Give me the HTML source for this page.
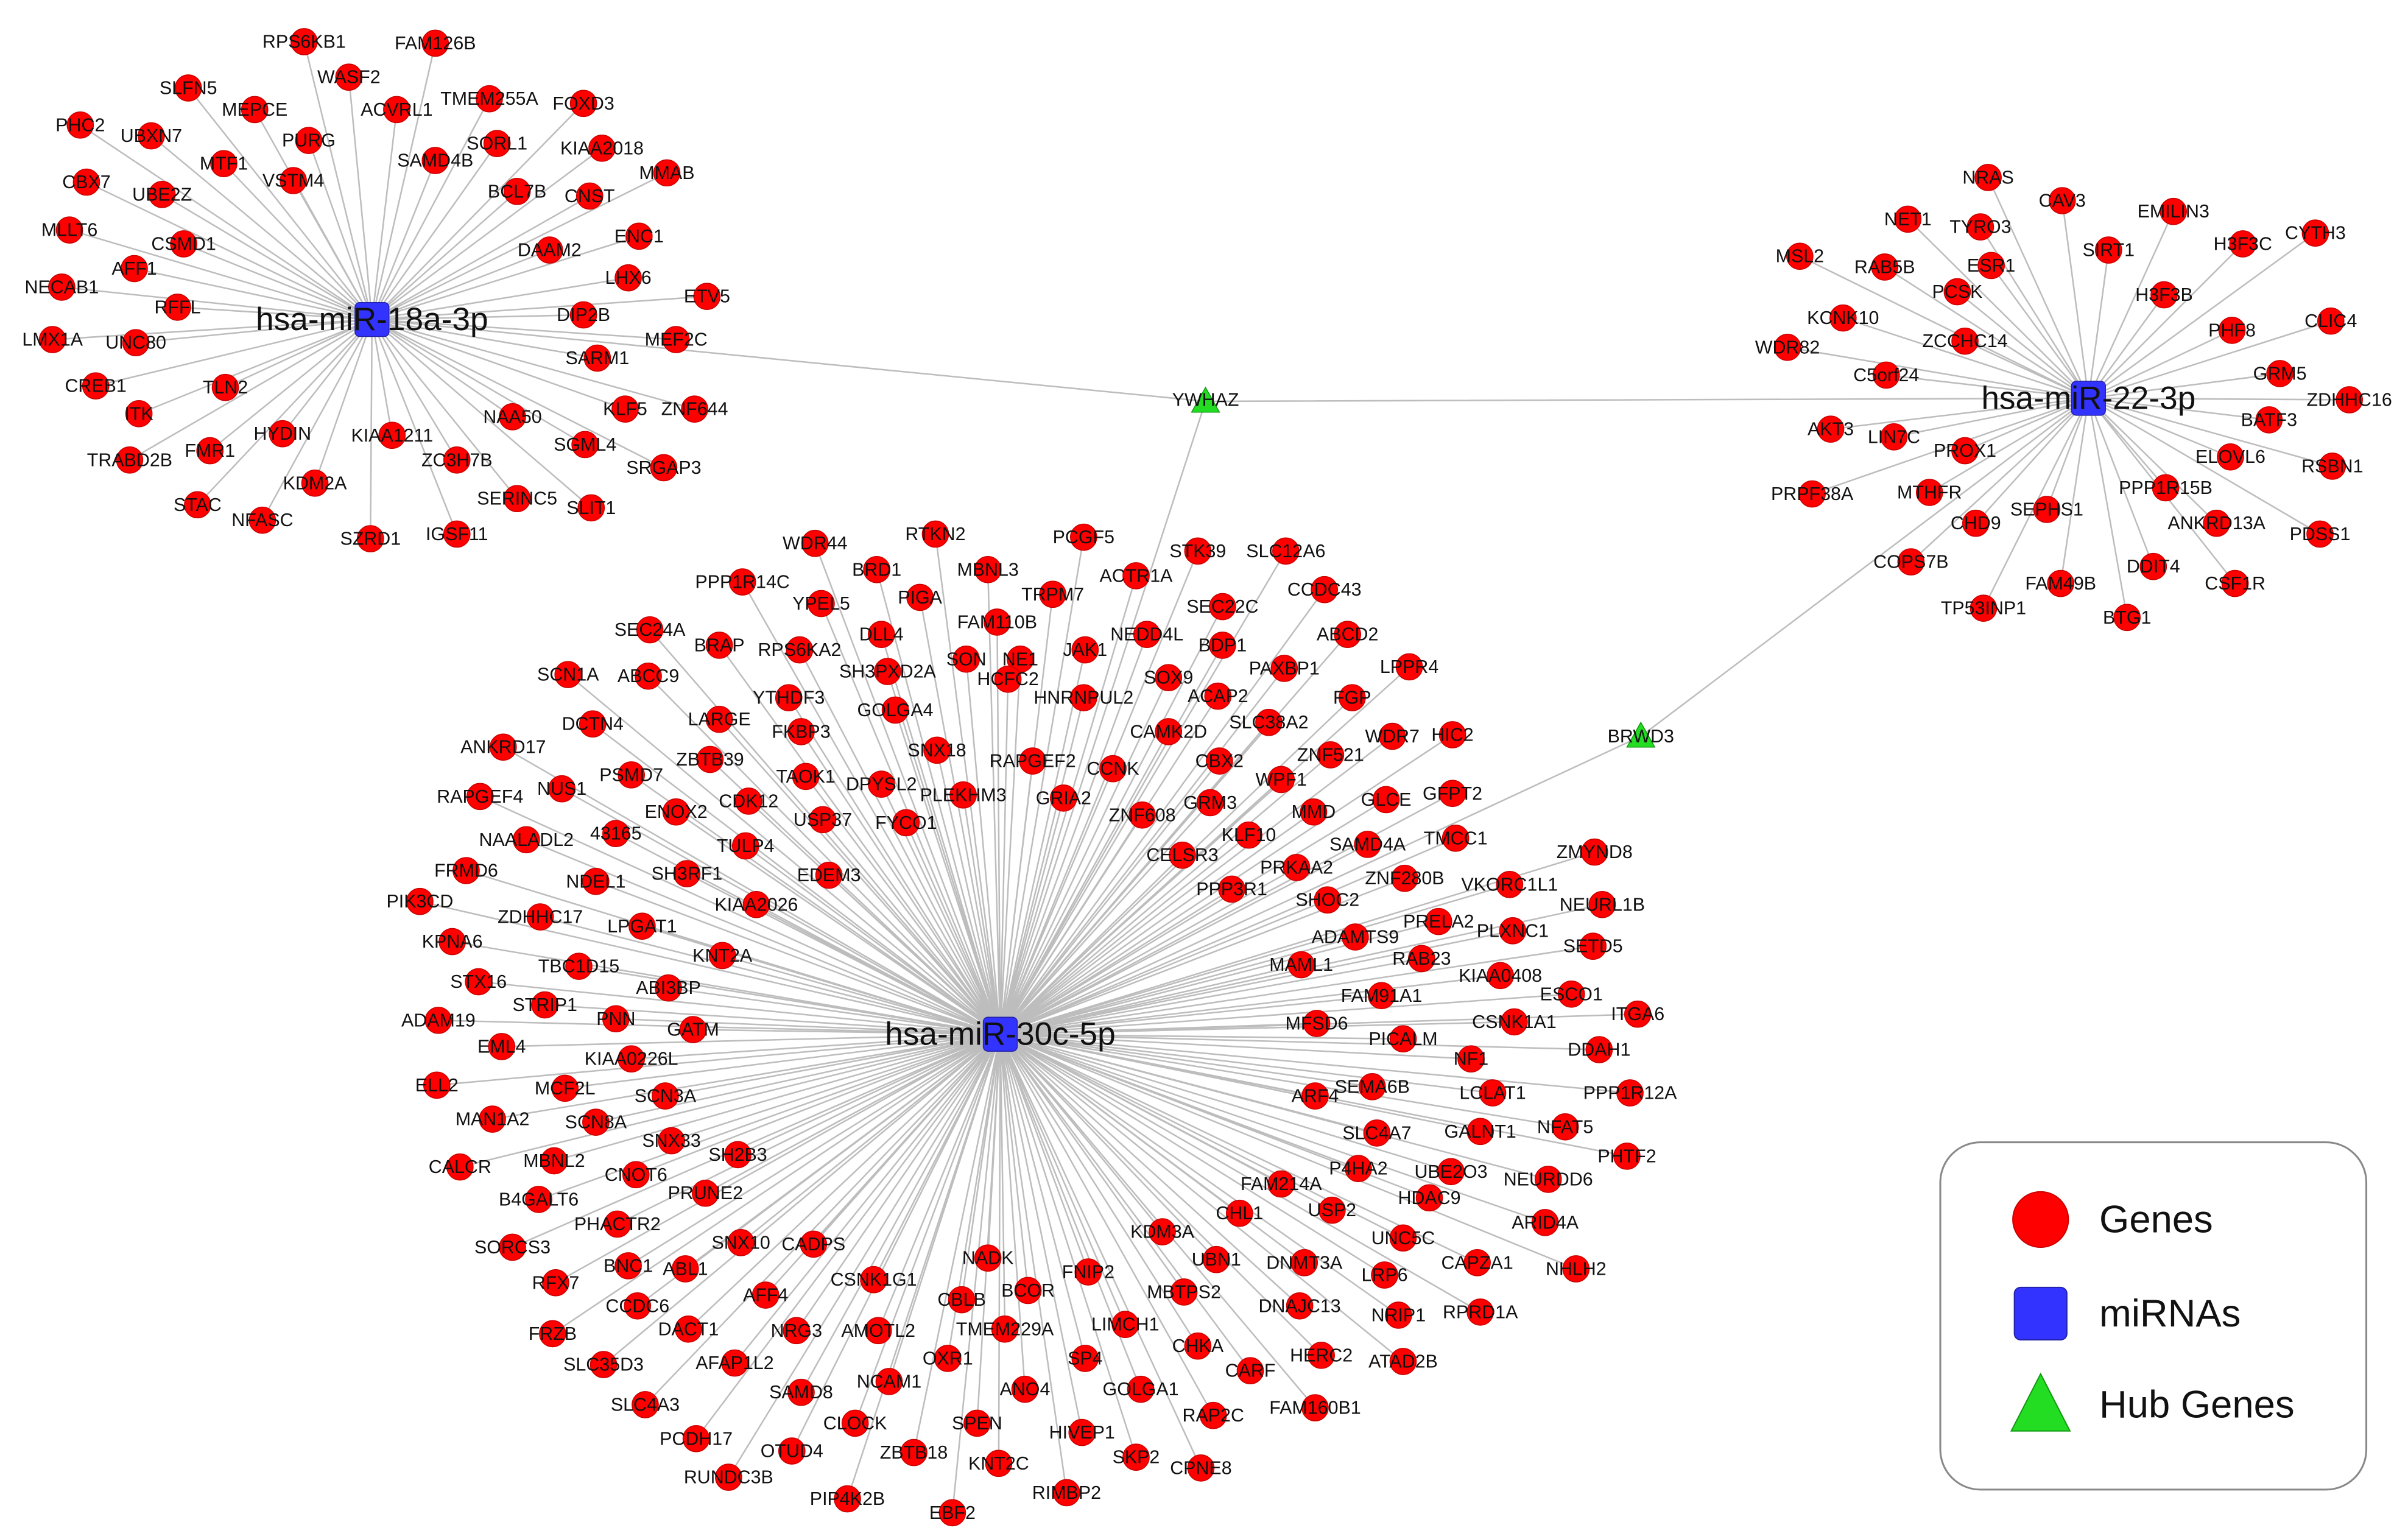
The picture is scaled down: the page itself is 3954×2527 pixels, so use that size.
<!DOCTYPE html>
<html><head><meta charset="utf-8"><style>
html,body{margin:0;padding:0;background:#fff;}
svg{display:block}
text{font-family:"Liberation Sans",Arial,sans-serif}
.g text{font-size:12px;text-anchor:middle;dominant-baseline:central;fill:#111}
.h{font-size:21px;text-anchor:middle;dominant-baseline:central;fill:#111}
.l{font-size:25px;fill:#111;dominant-baseline:central}
.g circle{fill:#f00;stroke:#c00;stroke-width:.6}
</style></head><body>
<svg width="3954" height="2527" viewBox="0 0 1560 997" xmlns="http://www.w3.org/2000/svg">
<rect width="1560" height="997" fill="#fff"/>
<g stroke="#bdbdbd" stroke-width="1" fill="none">
<path d="M241 207L781 260L1353 258M648 670L781 260M648 670L1063 477L1353 258"/>
<path d="M241 207L197 27M241 207L282 28M241 207L226 50M241 207L122 57M241 207L165 71M241 207L257 71M241 207L317 64M241 207L378 67M241 207L52 81M241 207L98 88M241 207L200 91M241 207L282 104M241 207L322 93M241 207L390 96M241 207L145 106M241 207L190 117M241 207L432 112M241 207L56 118M241 207L105 126M241 207L335 124M241 207L382 127M241 207L45 149M241 207L119 158M241 207L414 153M241 207L356 162M241 207L87 174M241 207L407 180M241 207L40 186M241 207L458 192M241 207L115 199M241 207L378 204M241 207L34 220M241 207L88 222M241 207L438 220M241 207L62 250M241 207L146 251M241 207L387 232M241 207L90 268M241 207L450 265M241 207L405 265M241 207L332 270M241 207L136 292M241 207L183 281M241 207L254 282M241 207L296 298M241 207L84 298M241 207L379 288M241 207L430 303M241 207L204 313M241 207L335 323M241 207L383 329M241 207L128 327M241 207L170 337M241 207L240 349M241 207L296 346"/>
<path d="M1353 258L1288 115M1353 258L1336 130M1353 258L1283 147M1353 258L1236 142M1353 258L1408 137M1353 258L1453 158M1353 258L1500 151M1353 258L1166 166M1353 258L1221 173M1353 258L1290 172M1353 258L1366 162M1353 258L1402 191M1353 258L1268 189M1353 258L1194 206M1353 258L1273 221M1353 258L1446 214M1353 258L1510 208M1353 258L1158 225M1353 258L1222 243M1353 258L1477 242M1353 258L1522 259M1353 258L1186 278M1353 258L1227 283M1353 258L1470 272M1353 258L1273 292M1353 258L1445 296M1353 258L1511 302M1353 258L1174 320M1353 258L1250 319M1353 258L1403 316M1353 258L1326 330M1353 258L1280 339M1353 258L1436 339M1353 258L1503 346M1353 258L1238 364M1353 258L1395 367M1353 258L1335 378M1353 258L1448 378M1353 258L1285 394M1353 258L1378 400"/>
<path d="M648 670L528 352M648 670L606 346M648 670L702 348M648 670L568 369M648 670L640 369M648 670L776 357M648 670L833 357M648 670L481 377M648 670L532 391M648 670L596 387M648 670L682 385M648 670L736 373M648 670L858 382M648 670L646 403M648 670L792 393M648 670L571 411M648 670L743 411M648 670L792 418M648 670L873 411M648 670L421 408M648 670L466 418M648 670L518 421M648 670L575 435M648 670L626 427M648 670L661 427M648 670L703 421M648 670L832 433M648 670L913 432M648 670L368 437M648 670L420 438M648 670L511 452M648 670L580 460M648 670L653 440M648 670L702 452M648 670L757 439M648 670L789 451M648 670L876 452M648 670L384 469M648 670L519 474M648 670L466 466M648 670L757 474M648 670L822 468M648 670L941 476M648 670L326 484M648 670L460 492M648 670L607 486M648 670L669 493M648 670L721 498M648 670L790 493M648 670L862 489M648 670L902 477M648 670L409 502M648 670L522 503M648 670L571 508M648 670L830 505M648 670L898 518M648 670L941 514M648 670L311 516M648 670L364 511M648 670L485 519M648 670L533 531M648 670L624 515M648 670L689 517M648 670L784 520M648 670L740 528M648 670L851 526M648 670L438 526M648 670L587 533M648 670L399 540M648 670L766 554M648 670L809 541M648 670L943 543M648 670L341 544M648 670L483 548M648 670L1033 552M648 670L886 547M648 670L840 562M648 670L537 567M648 670L445 566M648 670L302 564M648 670L386 571M648 670L910 569M648 670L978 573M648 670L798 576M648 670L860 583M648 670L490 586M648 670L1038 586M648 670L272 584M648 670L350 594M648 670L416 600M648 670L932 597M648 670L980 603M648 670L878 607M648 670L293 610M648 670L468 619M648 670L843 625M648 670L921 621M648 670L1032 613M648 670L375 626M648 670L895 645M648 670L972 632M648 670L310 636M648 670L433 640M648 670L1018 644M648 670L353 651M648 670L399 660M648 670L449 667M648 670L981 662M648 670L1061 657M648 670L853 663M648 670L284 661M648 670L909 673M648 670L1036 680M648 670L325 678M648 670L953 686M648 670L409 686M648 670L1056 708M648 670L283 703M648 670L366 705M648 670L431 710M648 670L967 708M648 670L889 704M648 670L852 710M648 670L319 725M648 670L386 727M648 670L959 733M648 670L1014 730M648 670L435 739M648 670L892 734M648 670L298 756M648 670L359 752M648 670L478 748M648 670L1054 749M648 670L880 757M648 670L940 759M648 670L1003 764M648 670L412 761M648 670L830 767M648 670L926 776M648 670L349 777M648 670L457 773M648 670L803 786M648 670L863 784M648 670L1001 792M648 670L400 793M648 670L753 798M648 670L480 805M648 670L527 806M648 670L909 802M648 670L332 808M648 670L407 820M648 670L444 822M648 670L788 816M648 670L845 818M648 670L957 818M648 670L1021 822M648 670L640 815M648 670L360 831M648 670L566 829M648 670L705 824M648 670L767 837M648 670L897 826M648 670L413 846M648 670L496 839M648 670L623 842M648 670L666 836M648 670L842 846M648 670L959 850M648 670L906 852M648 670L446 861M648 670L358 864M648 670L516 862M648 670L569 862M648 670L651 861M648 670L729 858M648 670L776 872M648 670L391 884M648 670L476 883M648 670L614 880M648 670L703 880M648 670L856 878M648 670L909 882M648 670L810 888M648 670L519 902M648 670L576 895M648 670L664 900M648 670L739 900M648 670L852 912M648 670L418 910M648 670L554 922M648 670L633 922M648 670L701 928M648 670L786 917M648 670L451 932M648 670L513 940M648 670L592 941M648 670L647 948M648 670L736 944M648 670L778 951M648 670L472 957M648 670L549 971M648 670L691 967M648 670L617 980"/>
</g>
<g class="g">
<circle cx="197" cy="27" r="8.5"/><text x="197" y="27">RPS6KB1</text>
<circle cx="282" cy="28" r="8.5"/><text x="282" y="28">FAM126B</text>
<circle cx="226" cy="50" r="8.5"/><text x="226" y="50">WASF2</text>
<circle cx="122" cy="57" r="8.5"/><text x="122" y="57">SLFN5</text>
<circle cx="165" cy="71" r="8.5"/><text x="165" y="71">MEPCE</text>
<circle cx="257" cy="71" r="8.5"/><text x="257" y="71">ACVRL1</text>
<circle cx="317" cy="64" r="8.5"/><text x="317" y="64">TMEM255A</text>
<circle cx="378" cy="67" r="8.5"/><text x="378" y="67">FOXD3</text>
<circle cx="52" cy="81" r="8.5"/><text x="52" y="81">PHC2</text>
<circle cx="98" cy="88" r="8.5"/><text x="98" y="88">UBXN7</text>
<circle cx="200" cy="91" r="8.5"/><text x="200" y="91">PURG</text>
<circle cx="282" cy="104" r="8.5"/><text x="282" y="104">SAMD4B</text>
<circle cx="322" cy="93" r="8.5"/><text x="322" y="93">SORL1</text>
<circle cx="390" cy="96" r="8.5"/><text x="390" y="96">KIAA2018</text>
<circle cx="145" cy="106" r="8.5"/><text x="145" y="106">MTF1</text>
<circle cx="190" cy="117" r="8.5"/><text x="190" y="117">VSTM4</text>
<circle cx="432" cy="112" r="8.5"/><text x="432" y="112">MMAB</text>
<circle cx="56" cy="118" r="8.5"/><text x="56" y="118">CBX7</text>
<circle cx="105" cy="126" r="8.5"/><text x="105" y="126">UBE2Z</text>
<circle cx="335" cy="124" r="8.5"/><text x="335" y="124">BCL7B</text>
<circle cx="382" cy="127" r="8.5"/><text x="382" y="127">CNST</text>
<circle cx="45" cy="149" r="8.5"/><text x="45" y="149">MLLT6</text>
<circle cx="119" cy="158" r="8.5"/><text x="119" y="158">CSMD1</text>
<circle cx="414" cy="153" r="8.5"/><text x="414" y="153">ENC1</text>
<circle cx="356" cy="162" r="8.5"/><text x="356" y="162">DAAM2</text>
<circle cx="87" cy="174" r="8.5"/><text x="87" y="174">AFF1</text>
<circle cx="407" cy="180" r="8.5"/><text x="407" y="180">LHX6</text>
<circle cx="40" cy="186" r="8.5"/><text x="40" y="186">NECAB1</text>
<circle cx="458" cy="192" r="8.5"/><text x="458" y="192">ETV5</text>
<circle cx="115" cy="199" r="8.5"/><text x="115" y="199">RFFL</text>
<circle cx="378" cy="204" r="8.5"/><text x="378" y="204">DIP2B</text>
<circle cx="34" cy="220" r="8.5"/><text x="34" y="220">LMX1A</text>
<circle cx="88" cy="222" r="8.5"/><text x="88" y="222">UNC80</text>
<circle cx="438" cy="220" r="8.5"/><text x="438" y="220">MEF2C</text>
<circle cx="62" cy="250" r="8.5"/><text x="62" y="250">CREB1</text>
<circle cx="146" cy="251" r="8.5"/><text x="146" y="251">TLN2</text>
<circle cx="387" cy="232" r="8.5"/><text x="387" y="232">SARM1</text>
<circle cx="90" cy="268" r="8.5"/><text x="90" y="268">ITK</text>
<circle cx="450" cy="265" r="8.5"/><text x="450" y="265">ZNF644</text>
<circle cx="405" cy="265" r="8.5"/><text x="405" y="265">KLF5</text>
<circle cx="332" cy="270" r="8.5"/><text x="332" y="270">NAA50</text>
<circle cx="136" cy="292" r="8.5"/><text x="136" y="292">FMR1</text>
<circle cx="183" cy="281" r="8.5"/><text x="183" y="281">HYDIN</text>
<circle cx="254" cy="282" r="8.5"/><text x="254" y="282">KIAA1211</text>
<circle cx="296" cy="298" r="8.5"/><text x="296" y="298">ZC3H7B</text>
<circle cx="84" cy="298" r="8.5"/><text x="84" y="298">TRABD2B</text>
<circle cx="379" cy="288" r="8.5"/><text x="379" y="288">SGML4</text>
<circle cx="430" cy="303" r="8.5"/><text x="430" y="303">SRGAP3</text>
<circle cx="204" cy="313" r="8.5"/><text x="204" y="313">KDM2A</text>
<circle cx="335" cy="323" r="8.5"/><text x="335" y="323">SERINC5</text>
<circle cx="383" cy="329" r="8.5"/><text x="383" y="329">SLIT1</text>
<circle cx="128" cy="327" r="8.5"/><text x="128" y="327">STAC</text>
<circle cx="170" cy="337" r="8.5"/><text x="170" y="337">NFASC</text>
<circle cx="240" cy="349" r="8.5"/><text x="240" y="349">SZRD1</text>
<circle cx="296" cy="346" r="8.5"/><text x="296" y="346">IGSF11</text>

<circle cx="1288" cy="115" r="8.5"/><text x="1288" y="115">NRAS</text>
<circle cx="1336" cy="130" r="8.5"/><text x="1336" y="130">CAV3</text>
<circle cx="1283" cy="147" r="8.5"/><text x="1283" y="147">TYRO3</text>
<circle cx="1236" cy="142" r="8.5"/><text x="1236" y="142">NET1</text>
<circle cx="1408" cy="137" r="8.5"/><text x="1408" y="137">EMILIN3</text>
<circle cx="1453" cy="158" r="8.5"/><text x="1453" y="158">H3F3C</text>
<circle cx="1500" cy="151" r="8.5"/><text x="1500" y="151">CYTH3</text>
<circle cx="1166" cy="166" r="8.5"/><text x="1166" y="166">MSL2</text>
<circle cx="1221" cy="173" r="8.5"/><text x="1221" y="173">RAB5B</text>
<circle cx="1290" cy="172" r="8.5"/><text x="1290" y="172">ESR1</text>
<circle cx="1366" cy="162" r="8.5"/><text x="1366" y="162">SIRT1</text>
<circle cx="1402" cy="191" r="8.5"/><text x="1402" y="191">H3F3B</text>
<circle cx="1268" cy="189" r="8.5"/><text x="1268" y="189">PCSK</text>
<circle cx="1194" cy="206" r="8.5"/><text x="1194" y="206">KCNK10</text>
<circle cx="1273" cy="221" r="8.5"/><text x="1273" y="221">ZCCHC14</text>
<circle cx="1446" cy="214" r="8.5"/><text x="1446" y="214">PHF8</text>
<circle cx="1510" cy="208" r="8.5"/><text x="1510" y="208">CLIC4</text>
<circle cx="1158" cy="225" r="8.5"/><text x="1158" y="225">WDR82</text>
<circle cx="1222" cy="243" r="8.5"/><text x="1222" y="243">C5orf24</text>
<circle cx="1477" cy="242" r="8.5"/><text x="1477" y="242">GRM5</text>
<circle cx="1522" cy="259" r="8.5"/><text x="1522" y="259">ZDHHC16</text>
<circle cx="1186" cy="278" r="8.5"/><text x="1186" y="278">AKT3</text>
<circle cx="1227" cy="283" r="8.5"/><text x="1227" y="283">LIN7C</text>
<circle cx="1470" cy="272" r="8.5"/><text x="1470" y="272">BATF3</text>
<circle cx="1273" cy="292" r="8.5"/><text x="1273" y="292">PROX1</text>
<circle cx="1445" cy="296" r="8.5"/><text x="1445" y="296">ELOVL6</text>
<circle cx="1511" cy="302" r="8.5"/><text x="1511" y="302">RSBN1</text>
<circle cx="1174" cy="320" r="8.5"/><text x="1174" y="320">PRPF38A</text>
<circle cx="1250" cy="319" r="8.5"/><text x="1250" y="319">MTHFR</text>
<circle cx="1403" cy="316" r="8.5"/><text x="1403" y="316">PPP1R15B</text>
<circle cx="1326" cy="330" r="8.5"/><text x="1326" y="330">SEPHS1</text>
<circle cx="1280" cy="339" r="8.5"/><text x="1280" y="339">CHD9</text>
<circle cx="1436" cy="339" r="8.5"/><text x="1436" y="339">ANKRD13A</text>
<circle cx="1503" cy="346" r="8.5"/><text x="1503" y="346">PDSS1</text>
<circle cx="1238" cy="364" r="8.5"/><text x="1238" y="364">COPS7B</text>
<circle cx="1395" cy="367" r="8.5"/><text x="1395" y="367">DDIT4</text>
<circle cx="1335" cy="378" r="8.5"/><text x="1335" y="378">FAM49B</text>
<circle cx="1448" cy="378" r="8.5"/><text x="1448" y="378">CSF1R</text>
<circle cx="1285" cy="394" r="8.5"/><text x="1285" y="394">TP53INP1</text>
<circle cx="1378" cy="400" r="8.5"/><text x="1378" y="400">BTG1</text>

<circle cx="528" cy="352" r="8.5"/><text x="528" y="352">WDR44</text>
<circle cx="606" cy="346" r="8.5"/><text x="606" y="346">RTKN2</text>
<circle cx="702" cy="348" r="8.5"/><text x="702" y="348">PCGF5</text>
<circle cx="568" cy="369" r="8.5"/><text x="568" y="369">BRD1</text>
<circle cx="640" cy="369" r="8.5"/><text x="640" y="369">MBNL3</text>
<circle cx="776" cy="357" r="8.5"/><text x="776" y="357">STK39</text>
<circle cx="833" cy="357" r="8.5"/><text x="833" y="357">SLC12A6</text>
<circle cx="481" cy="377" r="8.5"/><text x="481" y="377">PPP1R14C</text>
<circle cx="532" cy="391" r="8.5"/><text x="532" y="391">YPEL5</text>
<circle cx="596" cy="387" r="8.5"/><text x="596" y="387">PIGA</text>
<circle cx="682" cy="385" r="8.5"/><text x="682" y="385">TRPM7</text>
<circle cx="736" cy="373" r="8.5"/><text x="736" y="373">ACTR1A</text>
<circle cx="858" cy="382" r="8.5"/><text x="858" y="382">CCDC43</text>
<circle cx="646" cy="403" r="8.5"/><text x="646" y="403">FAM110B</text>
<circle cx="792" cy="393" r="8.5"/><text x="792" y="393">SEC22C</text>
<circle cx="571" cy="411" r="8.5"/><text x="571" y="411">DLL4</text>
<circle cx="743" cy="411" r="8.5"/><text x="743" y="411">NEDD4L</text>
<circle cx="792" cy="418" r="8.5"/><text x="792" y="418">BDP1</text>
<circle cx="873" cy="411" r="8.5"/><text x="873" y="411">ABCD2</text>
<circle cx="421" cy="408" r="8.5"/><text x="421" y="408">SEC24A</text>
<circle cx="466" cy="418" r="8.5"/><text x="466" y="418">BRAP</text>
<circle cx="518" cy="421" r="8.5"/><text x="518" y="421">RPS6KA2</text>
<circle cx="575" cy="435" r="8.5"/><text x="575" y="435">SH3PXD2A</text>
<circle cx="626" cy="427" r="8.5"/><text x="626" y="427">SON</text>
<circle cx="661" cy="427" r="8.5"/><text x="661" y="427">NE1</text>
<circle cx="703" cy="421" r="8.5"/><text x="703" y="421">JAK1</text>
<circle cx="832" cy="433" r="8.5"/><text x="832" y="433">PAXBP1</text>
<circle cx="913" cy="432" r="8.5"/><text x="913" y="432">LPPR4</text>
<circle cx="368" cy="437" r="8.5"/><text x="368" y="437">SCN1A</text>
<circle cx="420" cy="438" r="8.5"/><text x="420" y="438">ABCC9</text>
<circle cx="511" cy="452" r="8.5"/><text x="511" y="452">YTHDF3</text>
<circle cx="580" cy="460" r="8.5"/><text x="580" y="460">GOLGA4</text>
<circle cx="653" cy="440" r="8.5"/><text x="653" y="440">HCFC2</text>
<circle cx="702" cy="452" r="8.5"/><text x="702" y="452">HNRNPUL2</text>
<circle cx="757" cy="439" r="8.5"/><text x="757" y="439">SOX9</text>
<circle cx="789" cy="451" r="8.5"/><text x="789" y="451">ACAP2</text>
<circle cx="876" cy="452" r="8.5"/><text x="876" y="452">FGP</text>
<circle cx="384" cy="469" r="8.5"/><text x="384" y="469">DCTN4</text>
<circle cx="519" cy="474" r="8.5"/><text x="519" y="474">FKBP3</text>
<circle cx="466" cy="466" r="8.5"/><text x="466" y="466">LARGE</text>
<circle cx="757" cy="474" r="8.5"/><text x="757" y="474">CAMK2D</text>
<circle cx="822" cy="468" r="8.5"/><text x="822" y="468">SLC38A2</text>
<circle cx="941" cy="476" r="8.5"/><text x="941" y="476">HIC2</text>
<circle cx="326" cy="484" r="8.5"/><text x="326" y="484">ANKRD17</text>
<circle cx="460" cy="492" r="8.5"/><text x="460" y="492">ZBTB39</text>
<circle cx="607" cy="486" r="8.5"/><text x="607" y="486">SNX18</text>
<circle cx="669" cy="493" r="8.5"/><text x="669" y="493">RAPGEF2</text>
<circle cx="721" cy="498" r="8.5"/><text x="721" y="498">CCNK</text>
<circle cx="790" cy="493" r="8.5"/><text x="790" y="493">CBX2</text>
<circle cx="862" cy="489" r="8.5"/><text x="862" y="489">ZNF521</text>
<circle cx="902" cy="477" r="8.5"/><text x="902" y="477">WDR7</text>
<circle cx="409" cy="502" r="8.5"/><text x="409" y="502">PSMD7</text>
<circle cx="522" cy="503" r="8.5"/><text x="522" y="503">TAOK1</text>
<circle cx="571" cy="508" r="8.5"/><text x="571" y="508">DPYSL2</text>
<circle cx="830" cy="505" r="8.5"/><text x="830" y="505">WPF1</text>
<circle cx="898" cy="518" r="8.5"/><text x="898" y="518">GLCE</text>
<circle cx="941" cy="514" r="8.5"/><text x="941" y="514">GFPT2</text>
<circle cx="311" cy="516" r="8.5"/><text x="311" y="516">RAPGEF4</text>
<circle cx="364" cy="511" r="8.5"/><text x="364" y="511">NUS1</text>
<circle cx="485" cy="519" r="8.5"/><text x="485" y="519">CDK12</text>
<circle cx="533" cy="531" r="8.5"/><text x="533" y="531">USP37</text>
<circle cx="624" cy="515" r="8.5"/><text x="624" y="515">PLEKHM3</text>
<circle cx="689" cy="517" r="8.5"/><text x="689" y="517">GRIA2</text>
<circle cx="784" cy="520" r="8.5"/><text x="784" y="520">GRM3</text>
<circle cx="740" cy="528" r="8.5"/><text x="740" y="528">ZNF608</text>
<circle cx="851" cy="526" r="8.5"/><text x="851" y="526">MMD</text>
<circle cx="438" cy="526" r="8.5"/><text x="438" y="526">ENOX2</text>
<circle cx="587" cy="533" r="8.5"/><text x="587" y="533">FYCO1</text>
<circle cx="399" cy="540" r="8.5"/><text x="399" y="540">43165</text>
<circle cx="766" cy="554" r="8.5"/><text x="766" y="554">CELSR3</text>
<circle cx="809" cy="541" r="8.5"/><text x="809" y="541">KLF10</text>
<circle cx="943" cy="543" r="8.5"/><text x="943" y="543">TMCC1</text>
<circle cx="341" cy="544" r="8.5"/><text x="341" y="544">NAALADL2</text>
<circle cx="483" cy="548" r="8.5"/><text x="483" y="548">TULP4</text>
<circle cx="1033" cy="552" r="8.5"/><text x="1033" y="552">ZMYND8</text>
<circle cx="886" cy="547" r="8.5"/><text x="886" y="547">SAMD4A</text>
<circle cx="840" cy="562" r="8.5"/><text x="840" y="562">PRKAA2</text>
<circle cx="537" cy="567" r="8.5"/><text x="537" y="567">EDEM3</text>
<circle cx="445" cy="566" r="8.5"/><text x="445" y="566">SH3RF1</text>
<circle cx="302" cy="564" r="8.5"/><text x="302" y="564">FRMD6</text>
<circle cx="386" cy="571" r="8.5"/><text x="386" y="571">NDEL1</text>
<circle cx="910" cy="569" r="8.5"/><text x="910" y="569">ZNF280B</text>
<circle cx="978" cy="573" r="8.5"/><text x="978" y="573">VKORC1L1</text>
<circle cx="798" cy="576" r="8.5"/><text x="798" y="576">PPP3R1</text>
<circle cx="860" cy="583" r="8.5"/><text x="860" y="583">SHOC2</text>
<circle cx="490" cy="586" r="8.5"/><text x="490" y="586">KIAA2026</text>
<circle cx="1038" cy="586" r="8.5"/><text x="1038" y="586">NEURL1B</text>
<circle cx="272" cy="584" r="8.5"/><text x="272" y="584">PIK3CD</text>
<circle cx="350" cy="594" r="8.5"/><text x="350" y="594">ZDHHC17</text>
<circle cx="416" cy="600" r="8.5"/><text x="416" y="600">LPGAT1</text>
<circle cx="932" cy="597" r="8.5"/><text x="932" y="597">PRELA2</text>
<circle cx="980" cy="603" r="8.5"/><text x="980" y="603">PLXNC1</text>
<circle cx="878" cy="607" r="8.5"/><text x="878" y="607">ADAMTS9</text>
<circle cx="293" cy="610" r="8.5"/><text x="293" y="610">KPNA6</text>
<circle cx="468" cy="619" r="8.5"/><text x="468" y="619">KNT2A</text>
<circle cx="843" cy="625" r="8.5"/><text x="843" y="625">MAML1</text>
<circle cx="921" cy="621" r="8.5"/><text x="921" y="621">RAB23</text>
<circle cx="1032" cy="613" r="8.5"/><text x="1032" y="613">SETD5</text>
<circle cx="375" cy="626" r="8.5"/><text x="375" y="626">TBC1D15</text>
<circle cx="895" cy="645" r="8.5"/><text x="895" y="645">FAM91A1</text>
<circle cx="972" cy="632" r="8.5"/><text x="972" y="632">KIAA0408</text>
<circle cx="310" cy="636" r="8.5"/><text x="310" y="636">STX16</text>
<circle cx="433" cy="640" r="8.5"/><text x="433" y="640">ABI3BP</text>
<circle cx="1018" cy="644" r="8.5"/><text x="1018" y="644">ESCO1</text>
<circle cx="353" cy="651" r="8.5"/><text x="353" y="651">STRIP1</text>
<circle cx="399" cy="660" r="8.5"/><text x="399" y="660">PNN</text>
<circle cx="449" cy="667" r="8.5"/><text x="449" y="667">GATM</text>
<circle cx="981" cy="662" r="8.5"/><text x="981" y="662">CSNK1A1</text>
<circle cx="1061" cy="657" r="8.5"/><text x="1061" y="657">ITGA6</text>
<circle cx="853" cy="663" r="8.5"/><text x="853" y="663">MFSD6</text>
<circle cx="284" cy="661" r="8.5"/><text x="284" y="661">ADAM19</text>
<circle cx="909" cy="673" r="8.5"/><text x="909" y="673">PICALM</text>
<circle cx="1036" cy="680" r="8.5"/><text x="1036" y="680">DDAH1</text>
<circle cx="325" cy="678" r="8.5"/><text x="325" y="678">EML4</text>
<circle cx="953" cy="686" r="8.5"/><text x="953" y="686">NF1</text>
<circle cx="409" cy="686" r="8.5"/><text x="409" y="686">KIAA0226L</text>
<circle cx="1056" cy="708" r="8.5"/><text x="1056" y="708">PPP1R12A</text>
<circle cx="283" cy="703" r="8.5"/><text x="283" y="703">ELL2</text>
<circle cx="366" cy="705" r="8.5"/><text x="366" y="705">MCF2L</text>
<circle cx="431" cy="710" r="8.5"/><text x="431" y="710">SCN3A</text>
<circle cx="967" cy="708" r="8.5"/><text x="967" y="708">LCLAT1</text>
<circle cx="889" cy="704" r="8.5"/><text x="889" y="704">SEMA6B</text>
<circle cx="852" cy="710" r="8.5"/><text x="852" y="710">ARF4</text>
<circle cx="319" cy="725" r="8.5"/><text x="319" y="725">MAN1A2</text>
<circle cx="386" cy="727" r="8.5"/><text x="386" y="727">SCN8A</text>
<circle cx="959" cy="733" r="8.5"/><text x="959" y="733">GALNT1</text>
<circle cx="1014" cy="730" r="8.5"/><text x="1014" y="730">NFAT5</text>
<circle cx="435" cy="739" r="8.5"/><text x="435" y="739">SNX33</text>
<circle cx="892" cy="734" r="8.5"/><text x="892" y="734">SLC4A7</text>
<circle cx="298" cy="756" r="8.5"/><text x="298" y="756">CALCR</text>
<circle cx="359" cy="752" r="8.5"/><text x="359" y="752">MBNL2</text>
<circle cx="478" cy="748" r="8.5"/><text x="478" y="748">SH2B3</text>
<circle cx="1054" cy="749" r="8.5"/><text x="1054" y="749">PHTF2</text>
<circle cx="880" cy="757" r="8.5"/><text x="880" y="757">P4HA2</text>
<circle cx="940" cy="759" r="8.5"/><text x="940" y="759">UBE2O3</text>
<circle cx="1003" cy="764" r="8.5"/><text x="1003" y="764">NEURDD6</text>
<circle cx="412" cy="761" r="8.5"/><text x="412" y="761">CNOT6</text>
<circle cx="830" cy="767" r="8.5"/><text x="830" y="767">FAM214A</text>
<circle cx="926" cy="776" r="8.5"/><text x="926" y="776">HDAC9</text>
<circle cx="349" cy="777" r="8.5"/><text x="349" y="777">B4GALT6</text>
<circle cx="457" cy="773" r="8.5"/><text x="457" y="773">PRUNE2</text>
<circle cx="803" cy="786" r="8.5"/><text x="803" y="786">CHL1</text>
<circle cx="863" cy="784" r="8.5"/><text x="863" y="784">USP2</text>
<circle cx="1001" cy="792" r="8.5"/><text x="1001" y="792">ARID4A</text>
<circle cx="400" cy="793" r="8.5"/><text x="400" y="793">PHACTR2</text>
<circle cx="753" cy="798" r="8.5"/><text x="753" y="798">KDM3A</text>
<circle cx="480" cy="805" r="8.5"/><text x="480" y="805">SNX10</text>
<circle cx="527" cy="806" r="8.5"/><text x="527" y="806">CADPS</text>
<circle cx="909" cy="802" r="8.5"/><text x="909" y="802">UNC5C</text>
<circle cx="332" cy="808" r="8.5"/><text x="332" y="808">SORCS3</text>
<circle cx="407" cy="820" r="8.5"/><text x="407" y="820">BNC1</text>
<circle cx="444" cy="822" r="8.5"/><text x="444" y="822">ABL1</text>
<circle cx="788" cy="816" r="8.5"/><text x="788" y="816">UBN1</text>
<circle cx="845" cy="818" r="8.5"/><text x="845" y="818">DNMT3A</text>
<circle cx="957" cy="818" r="8.5"/><text x="957" y="818">CAPZA1</text>
<circle cx="1021" cy="822" r="8.5"/><text x="1021" y="822">NHLH2</text>
<circle cx="640" cy="815" r="8.5"/><text x="640" y="815">NADK</text>
<circle cx="360" cy="831" r="8.5"/><text x="360" y="831">RFX7</text>
<circle cx="566" cy="829" r="8.5"/><text x="566" y="829">CSNK1G1</text>
<circle cx="705" cy="824" r="8.5"/><text x="705" y="824">FNIP2</text>
<circle cx="767" cy="837" r="8.5"/><text x="767" y="837">MBTPS2</text>
<circle cx="897" cy="826" r="8.5"/><text x="897" y="826">LRP6</text>
<circle cx="413" cy="846" r="8.5"/><text x="413" y="846">CCDC6</text>
<circle cx="496" cy="839" r="8.5"/><text x="496" y="839">AFF4</text>
<circle cx="623" cy="842" r="8.5"/><text x="623" y="842">CBLB</text>
<circle cx="666" cy="836" r="8.5"/><text x="666" y="836">BCOR</text>
<circle cx="842" cy="846" r="8.5"/><text x="842" y="846">DNAJC13</text>
<circle cx="959" cy="850" r="8.5"/><text x="959" y="850">RPRD1A</text>
<circle cx="906" cy="852" r="8.5"/><text x="906" y="852">NRIP1</text>
<circle cx="446" cy="861" r="8.5"/><text x="446" y="861">DACT1</text>
<circle cx="358" cy="864" r="8.5"/><text x="358" y="864">FRZB</text>
<circle cx="516" cy="862" r="8.5"/><text x="516" y="862">NRG3</text>
<circle cx="569" cy="862" r="8.5"/><text x="569" y="862">AMOTL2</text>
<circle cx="651" cy="861" r="8.5"/><text x="651" y="861">TMEM229A</text>
<circle cx="729" cy="858" r="8.5"/><text x="729" y="858">LIMCH1</text>
<circle cx="776" cy="872" r="8.5"/><text x="776" y="872">CHKA</text>
<circle cx="391" cy="884" r="8.5"/><text x="391" y="884">SLC35D3</text>
<circle cx="476" cy="883" r="8.5"/><text x="476" y="883">AFAP1L2</text>
<circle cx="614" cy="880" r="8.5"/><text x="614" y="880">OXR1</text>
<circle cx="703" cy="880" r="8.5"/><text x="703" y="880">SP4</text>
<circle cx="856" cy="878" r="8.5"/><text x="856" y="878">HERC2</text>
<circle cx="909" cy="882" r="8.5"/><text x="909" y="882">ATAD2B</text>
<circle cx="810" cy="888" r="8.5"/><text x="810" y="888">CARF</text>
<circle cx="519" cy="902" r="8.5"/><text x="519" y="902">SAMD8</text>
<circle cx="576" cy="895" r="8.5"/><text x="576" y="895">NCAM1</text>
<circle cx="664" cy="900" r="8.5"/><text x="664" y="900">ANO4</text>
<circle cx="739" cy="900" r="8.5"/><text x="739" y="900">GOLGA1</text>
<circle cx="852" cy="912" r="8.5"/><text x="852" y="912">FAM160B1</text>
<circle cx="418" cy="910" r="8.5"/><text x="418" y="910">SLC4A3</text>
<circle cx="554" cy="922" r="8.5"/><text x="554" y="922">CLOCK</text>
<circle cx="633" cy="922" r="8.5"/><text x="633" y="922">SPEN</text>
<circle cx="701" cy="928" r="8.5"/><text x="701" y="928">HIVEP1</text>
<circle cx="786" cy="917" r="8.5"/><text x="786" y="917">RAP2C</text>
<circle cx="451" cy="932" r="8.5"/><text x="451" y="932">PCDH17</text>
<circle cx="513" cy="940" r="8.5"/><text x="513" y="940">OTUD4</text>
<circle cx="592" cy="941" r="8.5"/><text x="592" y="941">ZBTB18</text>
<circle cx="647" cy="948" r="8.5"/><text x="647" y="948">KNT2C</text>
<circle cx="736" cy="944" r="8.5"/><text x="736" y="944">SKP2</text>
<circle cx="778" cy="951" r="8.5"/><text x="778" y="951">CPNE8</text>
<circle cx="472" cy="957" r="8.5"/><text x="472" y="957">RUNDC3B</text>
<circle cx="549" cy="971" r="8.5"/><text x="549" y="971">PIP4K2B</text>
<circle cx="691" cy="967" r="8.5"/><text x="691" y="967">RIMBP2</text>
<circle cx="617" cy="980" r="8.5"/><text x="617" y="980">EBF2</text>

<polygon points="781,251 790,267 772,267" fill="#22dd22" stroke="#119911" stroke-width=".6"/><text x="781" y="259">YWHAZ</text>
<polygon points="1063,468 1072,484 1054,484" fill="#22dd22" stroke="#119911" stroke-width=".6"/><text x="1063" y="477">BRWD3</text>
</g>
<rect x="230" y="196" width="22" height="22" rx="3" fill="#3333ff" stroke="#2222aa" stroke-width=".6"/>
<text class="h" x="241" y="207">hsa-miR-18a-3p</text>
<rect x="1342" y="247" width="22" height="22" rx="3" fill="#3333ff" stroke="#2222aa" stroke-width=".6"/>
<text class="h" x="1353" y="258">hsa-miR-22-3p</text>
<rect x="637" y="659" width="22" height="22" rx="3" fill="#3333ff" stroke="#2222aa" stroke-width=".6"/>
<text class="h" x="648" y="670">hsa-miR-30c-5p</text>
<rect x="1257" y="740" width="276" height="225" rx="26" fill="#fff" stroke="#888" stroke-width="1.2"/>
<circle cx="1322" cy="790" r="18" fill="#f00" stroke="#c00" stroke-width=".8"/>
<text class="l" x="1360" y="790">Genes</text>
<rect x="1305" y="834" width="34" height="34" rx="4" fill="#3333ff" stroke="#2222aa" stroke-width=".8"/>
<text class="l" x="1360" y="851">miRNAs</text>
<polygon points="1322,890 1341,927 1303,927" fill="#22dd22" stroke="#119911" stroke-width=".8"/>
<text class="l" x="1360" y="910">Hub Genes</text>
</svg>
</body></html>
